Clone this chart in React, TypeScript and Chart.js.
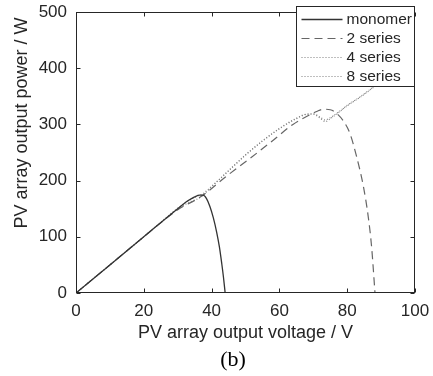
import React, { useEffect, useRef } from 'react';
import { Chart, registerables } from 'chart.js';

Chart.register(...registerables);

// ---- data ----
const seriesLabels = ['monomer', '2 series', '4 series', '8 series'];

const monomerV = [0, 10, 20, 30, 33, 35, 36.5, 37.5, 38.5, 39.5, 40.5, 41.5, 42.3, 43, 43.5, 44];
const monomerP = [0, 50, 100, 150, 164, 171, 174, 174, 168, 154, 134, 108, 82, 52, 28, 0];

const series2V = [0, 10, 20, 30, 37, 44, 51, 58, 64, 68, 71, 73, 75, 77, 79, 80.8, 82.8, 84.8, 86.2, 87.2, 88.2];
const series2P = [0, 50, 100, 148, 172, 206, 238, 271, 300, 314, 323, 327, 326, 319, 305, 284, 242, 189, 136, 82, 0];

const series4V = [0, 10, 20, 30, 34, 36, 37.5, 40, 45, 50, 55, 60, 65, 68, 70, 72, 73.5, 75, 77, 80, 84, 88, 92, 96, 100];
const series4P = [0, 50, 100, 151, 167, 173, 177, 190, 218, 246, 271, 293, 311, 318, 318, 311, 305, 310, 319, 333, 349, 367, 385, 403, 421];

const series8V = [0, 10, 20, 30, 34, 36, 37.5, 40, 45, 50, 55, 60, 65, 68, 70, 72, 73.5, 75, 77, 80, 84, 88, 92, 96, 100];
const series8P = [0, 50, 100, 149, 163, 168, 174, 189, 217, 245, 270, 292, 310, 318, 319, 313, 308, 312, 320, 334, 350, 368, 386, 404, 422];

const xTicks = [0, 20, 40, 60, 80, 100];
const yTicks = [0, 100, 200, 300, 400, 500];

const xTitle = 'PV array output voltage / V';
const yTitle = 'PV array output power / W';
const caption = '(b)';

const zip = (v: number[], p: number[]) => v.map((x, i) => ({ x, y: p[i] }));

const AXIS = '#262626';
const SANS = '"Liberation Sans", Arial, sans-serif';

export default function App() {
  const ref = useRef<HTMLCanvasElement>(null);

  useEffect(() => {
    const canvas = ref.current;
    if (!canvas) return;

    const framePlugin = {
      id: 'frameTicks',
      afterDatasetsDraw(chart: any) {
        const { ctx, chartArea: a, scales } = chart;
        ctx.save();
        ctx.strokeStyle = AXIS;
        ctx.lineWidth = 1;
        const L = Math.round(a.left) + 0.5;
        const R = Math.round(a.right) - 0.5;
        const T = Math.round(a.top) + 0.5;
        const B = Math.round(a.bottom) - 0.5;
        ctx.strokeRect(L, T, R - L, B - T);
        const tl = 4;
        ctx.beginPath();
        xTicks.forEach((v) => {
          const px = Math.round(scales.x.getPixelForValue(v)) + 0.5;
          ctx.moveTo(px, B);
          ctx.lineTo(px, B - tl);
          ctx.moveTo(px, T);
          ctx.lineTo(px, T + tl);
        });
        yTicks.forEach((v) => {
          const py = Math.round(scales.y.getPixelForValue(v)) + 0.5;
          ctx.moveTo(L, py);
          ctx.lineTo(L + tl, py);
          ctx.moveTo(R, py);
          ctx.lineTo(R - tl, py);
        });
        ctx.stroke();
        ctx.restore();
      },
    };

    const textPlugin = {
      id: 'extraText',
      afterDraw(chart: any) {
        const { ctx, chartArea: a } = chart;
        ctx.save();
        // y axis title
        ctx.fillStyle = AXIS;
        ctx.font = `18px ${SANS}`;
        ctx.textAlign = 'center';
        ctx.textBaseline = 'middle';
        ctx.translate(22, 123);
        ctx.rotate(-Math.PI / 2);
        ctx.fillText(yTitle, 0, 0);
        ctx.setTransform(1, 0, 0, 1, 0, 0);
        // caption
        ctx.fillStyle = '#000';
        ctx.font = `22px "Liberation Serif", "Times New Roman", serif`;
        ctx.fillText(caption, 233, 360);

        // legend box
        const boxR = Math.round(a.right) - 0.5;
        const boxL = boxR - 118;
        const boxT = Math.round(a.top) - 6 + 0.5;
        const boxB = boxT + 80;
        ctx.fillStyle = '#fff';
        ctx.fillRect(boxL, boxT, boxR - boxL, boxB - boxT);
        ctx.strokeStyle = AXIS;
        ctx.lineWidth = 1;
        ctx.strokeRect(boxL, boxT, boxR - boxL, boxB - boxT);
        ctx.font = `15.5px ${SANS}`;
        ctx.textAlign = 'left';
        ctx.textBaseline = 'middle';
        chart.data.datasets.forEach((ds: any, i: number) => {
          const y = Math.round(boxT + 12 + i * 19.3) + 0.5;
          ctx.beginPath();
          ctx.strokeStyle = ds.borderColor;
          ctx.lineWidth = ds.borderWidth;
          ctx.setLineDash(ds.borderDash || []);
          ctx.moveTo(boxL + 5, y);
          ctx.lineTo(boxL + 46, y);
          ctx.stroke();
          ctx.setLineDash([]);
          ctx.fillStyle = AXIS;
          ctx.fillText(ds.label, boxL + 50, y);
        });
        ctx.restore();
      },
    };

    const common = { pointRadius: 0, fill: false, cubicInterpolationMode: 'monotone' as const };

    const chart = new Chart(canvas, {
      type: 'line',
      data: {
        datasets: [
          { ...common, label: seriesLabels[0], data: zip(monomerV, monomerP), borderColor: '#333333', borderWidth: 1.3, borderDash: [] },
          { ...common, label: seriesLabels[1], data: zip(series2V, series2P), borderColor: '#666666', borderWidth: 1.2, borderDash: [8, 5] },
          { ...common, label: seriesLabels[2], data: zip(series4V, series4P), borderColor: '#808080', borderWidth: 1.1, borderDash: [1, 2] },
          { ...common, label: seriesLabels[3], data: zip(series8V, series8P), borderColor: '#808080', borderWidth: 1.1, borderDash: [1, 2] },
        ],
      },
      options: {
        responsive: false,
        animation: false,
        layout: { padding: { top: 12, right: 18, left: 0, bottom: 0 } },
        plugins: { legend: { display: false }, title: { display: false }, tooltip: { enabled: false } },
        scales: {
          x: {
            type: 'linear',
            min: 0,
            max: 100,
            grid: { display: false, drawTicks: false },
            border: { display: false },
            afterBuildTicks: (s: any) => { s.ticks = xTicks.map((v) => ({ value: v })); },
            afterFit: (s: any) => {
              s.height = 83;
              s.paddingLeft = 0;
              s.paddingRight = 0;
            },
            ticks: { padding: 8, color: AXIS, font: { family: SANS, size: 17 } },
            title: {
              display: true,
              text: xTitle,
              color: AXIS,
              font: { family: SANS, size: 18 },
              padding: { top: 0, bottom: 32 },
            },
          },
          y: {
            type: 'linear',
            min: 0,
            max: 500,
            grid: { display: false, drawTicks: false },
            border: { display: false },
            afterBuildTicks: (s: any) => { s.ticks = yTicks.map((v) => ({ value: v })); },
            afterFit: (s: any) => {
              s.width = 76;
              s.paddingTop = 0;
              s.paddingBottom = 0;
            },
            ticks: { padding: 9, color: AXIS, font: { family: SANS, size: 17 } },
          },
        },
      },
      plugins: [framePlugin, textPlugin],
    });

    return () => chart.destroy();
  }, []);

  return (
    <div style={{ position: 'absolute', left: 0, top: 0, width: 433, height: 376, background: '#fff' }}>
      <canvas ref={ref} width={433} height={376} style={{ display: 'block' }} />
    </div>
  );
}
